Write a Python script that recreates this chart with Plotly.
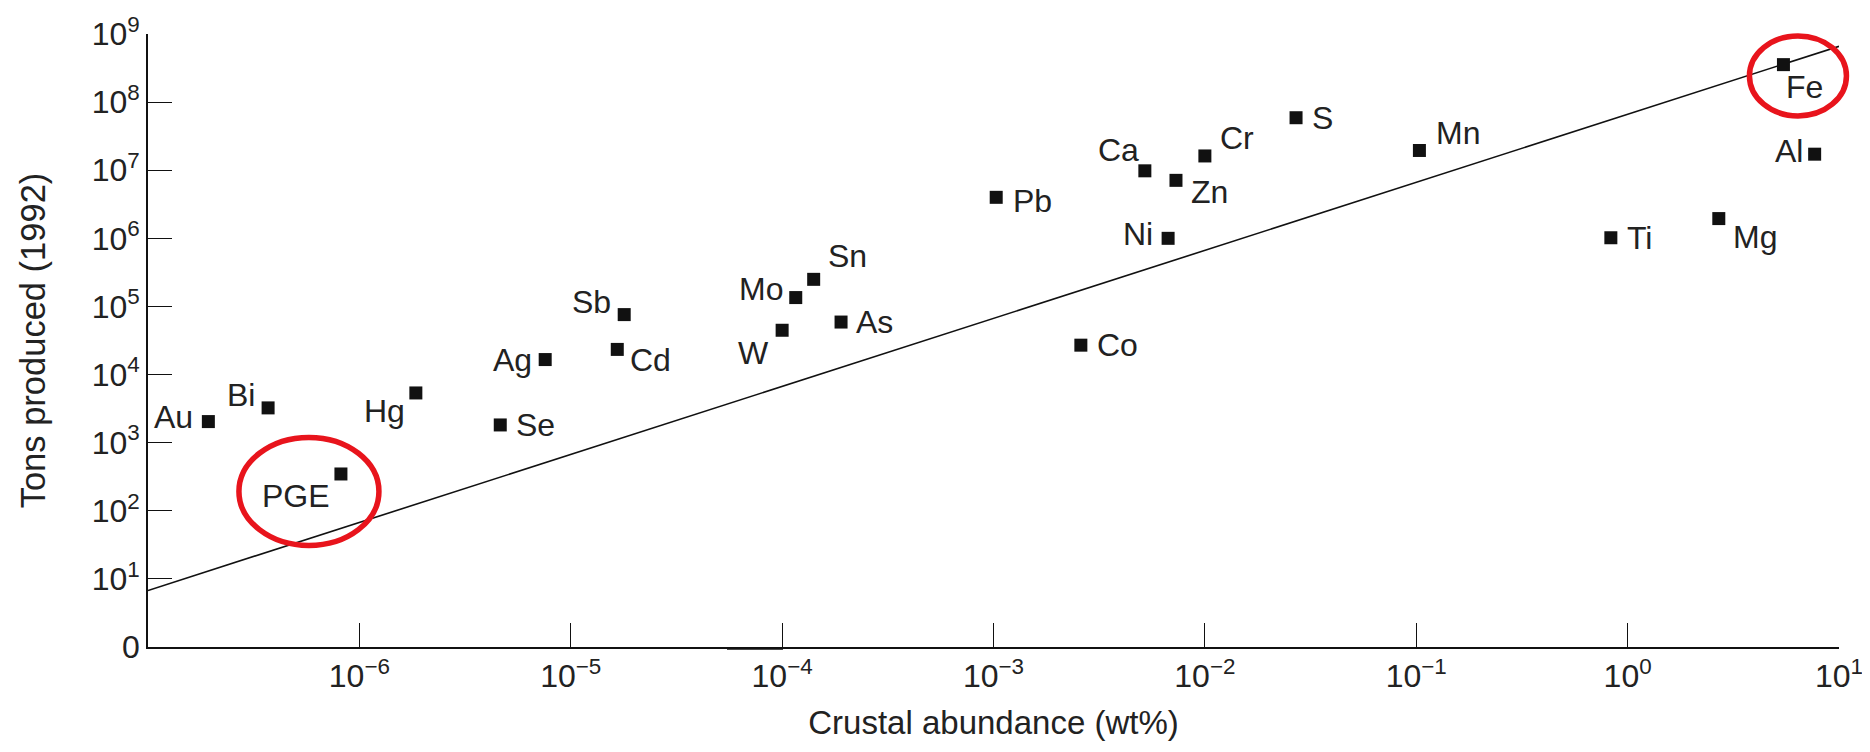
import numpy as np
import plotly.graph_objects as go

# ---- data ----
elements = ["Au", "Bi", "PGE", "Hg", "Se", "Ag", "Sb", "Cd", "W", "Mo", "Sn", "As",
            "Pb", "Co", "Ca", "Ni", "Zn", "Cr", "S", "Mn", "Ti", "Mg", "Fe", "Al"]
abundance_wt = [1.93e-7, 3.70e-7, 8.18e-7, 1.85e-6, 4.64e-6, 7.57e-6, 1.79e-5, 1.66e-5,
                1.00e-4, 1.16e-4, 1.41e-4, 1.90e-4,
                1.03e-3, 2.59e-3, 5.2e-3, 6.7e-3, 7.3e-3, 1.0e-2, 2.70e-2, 0.1035,
                0.833, 2.70, 5.46, 7.67]
tons_1992 = [2040, 3240, 347, 5370, 1820, 1.66e4, 7.59e4, 2.34e4,
             4.47e4, 1.35e5, 2.5e5, 5.9e4,
             4.0e6, 2.7e4, 9.8e6, 1.0e6, 7.1e6, 1.62e7, 5.9e7, 1.95e7,
             1.02e6, 1.95e6, 3.55e8, 1.72e7]

trend_x = [1e-7, 10]
trend_y = [6.76, 6.6e8]

x_tickvals = [1e-6, 1e-5, 1e-4, 1e-3, 1e-2, 1e-1, 1e0, 1e1]
x_ticktext = ["10<sup>−6</sup>", "10<sup>−5</sup>", "10<sup>−4</sup>", "10<sup>−3</sup>",
              "10<sup>−2</sup>", "10<sup>−1</sup>", "10<sup>0</sup>", "10<sup>1</sup>"]
y_tickvals = [1, 1e1, 1e2, 1e3, 1e4, 1e5, 1e6, 1e7, 1e8, 1e9]
y_ticktext = ["0"] + ["10<sup>%d</sup>" % k for k in range(1, 10)]

highlighted = ["PGE", "Fe"]

# ---- label placement (styles: anchor side, pixel shifts) ----
label_style = {
    "Au": ("right", -13, 5), "Bi": ("right", -11, 13), "PGE": ("right", -9, -22),
    "Hg": ("right", -9, -18), "Se": ("left", 14, 0), "Ag": ("right", -11, 0),
    "Sb": ("right", -11, 13), "Cd": ("left", 11, -11), "W": ("right", -11, -23),
    "Mo": ("right", -11, 9), "Sn": ("left", 12, 23), "As": ("left", 13, 0),
    "Pb": ("left", 15, -4), "Co": ("left", 14, 0), "Ca": ("right", -4, 21),
    "Ni": ("right", -13, 4), "Zn": ("left", 13, -12), "Cr": ("left", 13, 18),
    "S": ("left", 14, 0), "Mn": ("left", 15, 17), "Ti": ("left", 14, 0),
    "Mg": ("left", 12, -18), "Fe": ("left", 1, -22), "Al": ("right", -10, 3),
}
# ellipse around highlighted points: (dx, dy, rx, ry) in pixels
circle_style = {"PGE": (-32, -17.5, 70, 54), "Fe": (14.5, -11.3, 48.5, 40)}

# page body has an 8px margin: the figure is sized so the plot lands in place
PAGE_OFF = 8
W, H = 1870 - PAGE_OFF, 752 - PAGE_OFF
ML, MT = 148 - PAGE_OFF, 34 - PAGE_OFF
MR, MB = 31, 105
XR = [-7, 1]
YR = [0, 9]
PW, PH = W - ML - MR, H - MT - MB

FONT = "Liberation Sans, Arial, Helvetica, sans-serif"
TXT = "#222222"

fig = go.Figure()
fig.add_trace(go.Scatter(x=trend_x, y=trend_y, mode="lines",
                         line=dict(color="#111111", width=1.6), hoverinfo="skip"))
fig.add_trace(go.Scatter(x=abundance_wt, y=tons_1992, mode="markers",
                         marker=dict(symbol="square", size=13, color="#111111",
                                     line=dict(width=0)),
                         text=elements, hoverinfo="text"))

for name, xv, yv in zip(elements, abundance_wt, tons_1992):
    anchor, dx, dy = label_style[name]
    fig.add_annotation(x=np.log10(xv), y=np.log10(yv), text=name, showarrow=False,
                       xanchor=anchor, yanchor="middle", xshift=dx, yshift=dy,
                       font=dict(family=FONT, size=32, color=TXT))


def to_paper(xv, yv):
    px = (np.log10(xv) - XR[0]) / (XR[1] - XR[0])
    py = (np.log10(yv) - YR[0]) / (YR[1] - YR[0])
    return px, py


for name in highlighted:
    i = elements.index(name)
    px, py = to_paper(abundance_wt[i], tons_1992[i])
    dx, dy, rx, ry = circle_style[name]
    cx = px + dx / PW
    cy = py + dy / PH
    fig.add_shape(type="circle", xref="paper", yref="paper",
                  x0=cx - rx / PW, x1=cx + rx / PW, y0=cy - ry / PH, y1=cy + ry / PH,
                  line=dict(color="#e8141c", width=5.5))

# small thick artefact on the x axis near 10^-4
fig.add_shape(type="line", xref="paper", yref="paper",
              x0=(727 - 148) / PW, x1=(783 - 148) / PW, y0=-1.5 / PH, y1=-1.5 / PH,
              line=dict(color="#111111", width=2.5))

axis_common = dict(showgrid=False, zeroline=False, showline=True, linecolor="#111111",
                   linewidth=1.6, ticks="inside", ticklen=24, tickwidth=1.4,
                   tickcolor="#111111", tickfont=dict(family=FONT, size=32, color=TXT))

fig.update_xaxes(type="log", range=XR, tickvals=x_tickvals, ticktext=x_ticktext,
                 title=dict(text="Crustal abundance (wt%)", standoff=18,
                            font=dict(family=FONT, size=33, color=TXT)),
                 **axis_common)
fig.update_yaxes(type="log", range=YR, tickvals=y_tickvals, ticktext=y_ticktext,
                 title=dict(text="Tons produced (1992)", standoff=36,
                            font=dict(family=FONT, size=34.5, color=TXT)),
                 **axis_common)

fig.update_layout(width=W, height=H, margin=dict(l=ML, r=MR, t=MT, b=MB, autoexpand=False),
                  paper_bgcolor="white", plot_bgcolor="white", showlegend=False,
                  font=dict(family=FONT, color=TXT))

fig.write_html("out.html")
